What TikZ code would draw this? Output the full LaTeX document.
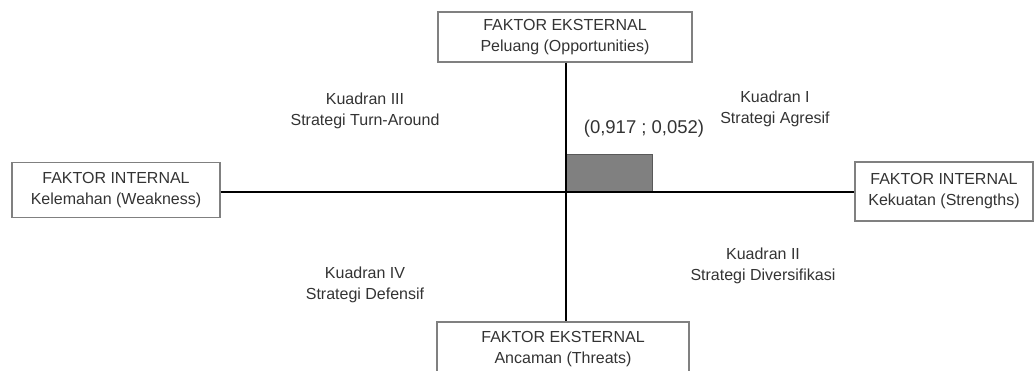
\documentclass[tikz,border=0pt]{standalone}
\usepackage{fontspec}
\setmainfont{Liberation Sans}
\begin{document}
\begin{tikzpicture}[x=1pt,y=-1pt,
  txt/.style={text=black!80,font=\fontsize{16}{21}\selectfont,align=center,inner sep=0pt},
  fbox/.style={txt,draw=black!50,line width=1.3pt,anchor=center},
  axis/.style={draw=black,line width=2pt}]
\useasboundingbox (0,0) rectangle (1036,371);
\coordinate (O) at (566,192);
\node[fbox,minimum width=254pt,minimum height=50pt] (top) at (565,37) {FAKTOR EKSTERNAL\\Peluang (Opportunities)};
\node[fbox,minimum width=252pt,minimum height=54pt] (bottom) at (563,349) {FAKTOR EKSTERNAL\\Ancaman (Threats)};
\node[fbox,minimum width=208pt,minimum height=55pt] (left) at (116,190) {FAKTOR INTERNAL\\Kelemahan (Weakness)};
\node[fbox,minimum width=178pt,minimum height=59pt] (right) at (944,191.5) {FAKTOR INTERNAL\\Kekuatan (Strengths)};
\fill[fill=black!50,draw=black!65,line width=0.8pt] (O) rectangle (652,154);
\draw[axis] (O -| left.east) -- (O -| right.west);
\draw[axis] (O |- top.south) -- (O |- bottom.north);
\node[txt] (q3) at (365,111) {Kuadran III\\Strategi Turn-Around};
\node[txt] (q1) at (775,109) {Kuadran I\\Strategi Agresif};
\node[txt] (q4) at (365,285) {Kuadran IV\\Strategi Defensif};
\node[txt] (q2) at (763,266) {Kuadran II\\Strategi Diversifikasi};
\node[txt,font=\fontsize{18.5}{22}\selectfont] (pt) at (644,129) {(0,917 ; 0,052)};
\end{tikzpicture}
\end{document}
